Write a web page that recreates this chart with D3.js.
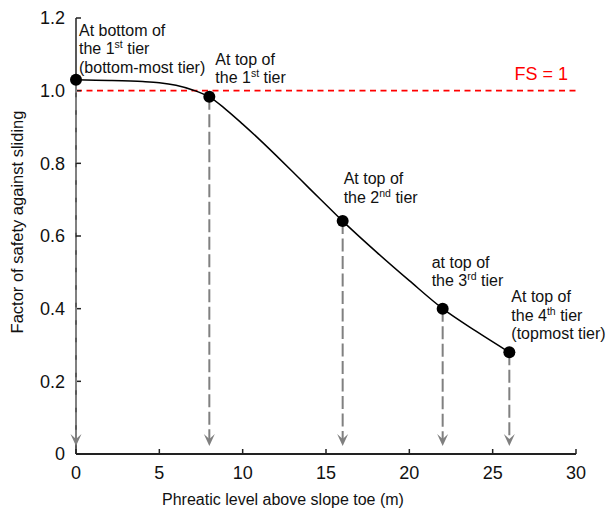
<!DOCTYPE html>
<html>
<head>
<meta charset="utf-8">
<script src="https://cdn.jsdelivr.net/npm/d3@7"></script>
<style>
  body { margin: 0; background: #fff; }
  svg { display: block; font-family: "Liberation Sans", Arial, sans-serif; }
</style>
</head>
<body>
<svg id="chart" width="606" height="513"></svg>
<script>
// ---- data ----
const tierX = [0, 8, 16, 22, 26];
const tierFS = [1.03, 0.983, 0.641, 0.40, 0.28];
const curveX = [0, 2, 4, 5, 6, 7, 8, 9, 10, 11, 12, 13, 14, 15, 16, 18, 20, 22, 24, 26];
const curveY = [1.03, 1.028, 1.025, 1.022, 1.015, 1.002, 0.983, 0.948, 0.908, 0.866, 0.822, 0.777, 0.731, 0.686, 0.641, 0.557, 0.477, 0.40, 0.338, 0.28];
const xTicks = [0, 5, 10, 15, 20, 25, 30];
const yTicks = [0, 0.2, 0.4, 0.6, 0.8, 1.0, 1.2];
const yTickLabels = ["0", "0.2", "0.4", "0.6", "0.8", "1.0", "1.2"];
const fsThreshold = 1;
const fsLabel = "FS = 1";
const xTitle = "Phreatic level above slope toe (m)";
const yTitle = "Factor of safety against sliding";
// annotation lines: [text] or [text, superscript, rest]
const annLines = [
  [["At bottom of"], ["the 1", "st", " tier"], ["(bottom-most tier)"]],
  [["At top of"], ["the 1", "st", " tier"]],
  [["At top of"], ["the 2", "nd", " tier"]],
  [["at top of"], ["the 3", "rd", " tier"]],
  [["At top of"], ["the 4", "th", " tier"], ["(topmost tier)"]]
];

// ---- layout ----
const x = d3.scaleLinear().domain([0, 30]).range([76, 576]);
const y = d3.scaleLinear().domain([0, 1.2]).range([454, 18]);
const annOffset = [ // pixel offset from each point to the first text baseline
  { dx: 3, dy: -44 },
  { dx: 6, dy: -32 },
  { dx: 1, dy: -37 },
  { dx: -11, dy: -41 },
  { dx: 2, dy: -50 }
];
const lineH = 18.5;

const svg = d3.select("#chart");

// red FS = 1 dashed line
svg.append("line")
  .attr("x1", x(0)).attr("x2", x(30))
  .attr("y1", y(fsThreshold)).attr("y2", y(fsThreshold))
  .attr("stroke", "#ff0000").attr("stroke-width", 1.8)
  .attr("stroke-dasharray", "6,4.5");
svg.append("text")
  .attr("x", 568).attr("y", y(fsThreshold) - 11)
  .attr("text-anchor", "end").attr("fill", "#ff0000")
  .attr("font-size", 18).text(fsLabel);

// axes
const axisG = svg.append("g");
axisG.append("line")
  .attr("x1", x(0)).attr("x2", x(30)).attr("y1", y(0)).attr("y2", y(0))
  .attr("stroke", "#222").attr("stroke-width", 2);
axisG.append("line")
  .attr("x1", x(0)).attr("x2", x(0)).attr("y1", y(0)).attr("y2", y(1.2))
  .attr("stroke", "#222").attr("stroke-width", 1.5);
axisG.selectAll(".xt").data(xTicks).enter().append("line")
  .attr("x1", d => x(d)).attr("x2", d => x(d))
  .attr("y1", y(0)).attr("y2", y(0) - 5)
  .attr("stroke", "#222").attr("stroke-width", 1.5);
axisG.selectAll(".yt").data(yTicks).enter().append("line")
  .attr("x1", x(0)).attr("x2", x(0) + 5)
  .attr("y1", d => y(d)).attr("y2", d => y(d))
  .attr("stroke", "#222").attr("stroke-width", 1.5);
axisG.selectAll(".xl").data(xTicks).enter().append("text")
  .attr("x", d => x(d)).attr("y", y(0) + 19).attr("dy", "0.35em")
  .attr("text-anchor", "middle").attr("font-size", 18).attr("fill", "#111")
  .text(d => d);
axisG.selectAll(".yl").data(yTicks).enter().append("text")
  .attr("x", x(0) - 11).attr("y", d => y(d)).attr("dy", "0.35em")
  .attr("text-anchor", "end").attr("font-size", 18).attr("fill", "#111")
  .text((d, i) => yTickLabels[i]);
svg.append("text")
  .attr("x", 283).attr("y", 505)
  .attr("text-anchor", "middle").attr("font-size", 16).attr("fill", "#111")
  .text(xTitle);
svg.append("text")
  .attr("transform", "translate(23,222) rotate(-90)")
  .attr("text-anchor", "middle").attr("font-size", 16.5).attr("fill", "#111")
  .text(yTitle);

// gray dashed arrows
const arrowTip = y(0) - 8;
const arrows = svg.append("g");
tierX.forEach((tx, i) => {
  arrows.append("line")
    .attr("x1", x(tx)).attr("x2", x(tx))
    .attr("y1", y(tierFS[i])).attr("y2", arrowTip - 4)
    .attr("stroke", "#808080").attr("stroke-width", 2)
    .attr("stroke-dasharray", "13,4.5");
  const ax = x(tx);
  arrows.append("path")
    .attr("d", `M${ax},${arrowTip} L${ax - 5.5},${arrowTip - 12} L${ax},${arrowTip - 7} L${ax + 5.5},${arrowTip - 12} Z`)
    .attr("fill", "#808080");
});

// curve
const line = d3.line().x(d => x(d[0])).y(d => y(d[1])).curve(d3.curveCatmullRom.alpha(0.5));
svg.append("path")
  .datum(curveX.map((cx, i) => [cx, curveY[i]]))
  .attr("d", line)
  .attr("fill", "none").attr("stroke", "#000").attr("stroke-width", 1.5);

// points
svg.selectAll(".pt").data(tierX).enter().append("circle")
  .attr("cx", d => x(d)).attr("cy", (d, i) => y(tierFS[i]))
  .attr("r", 6).attr("fill", "#000");

// annotations
annLines.forEach((lines, i) => {
  const bx = x(tierX[i]) + annOffset[i].dx;
  const by = y(tierFS[i]) + annOffset[i].dy;
  lines.forEach((parts, j) => {
    const t = svg.append("text")
      .attr("x", bx).attr("y", by + j * lineH)
      .attr("font-size", 16).attr("fill", "#111");
    t.append("tspan").text(parts[0]);
    if (parts.length > 1) {
      t.append("tspan").attr("font-size", 10.5).attr("dy", -6).text(parts[1]);
      t.append("tspan").attr("dy", 6).text(parts[2]);
    }
  });
});
</script>
</body>
</html>
